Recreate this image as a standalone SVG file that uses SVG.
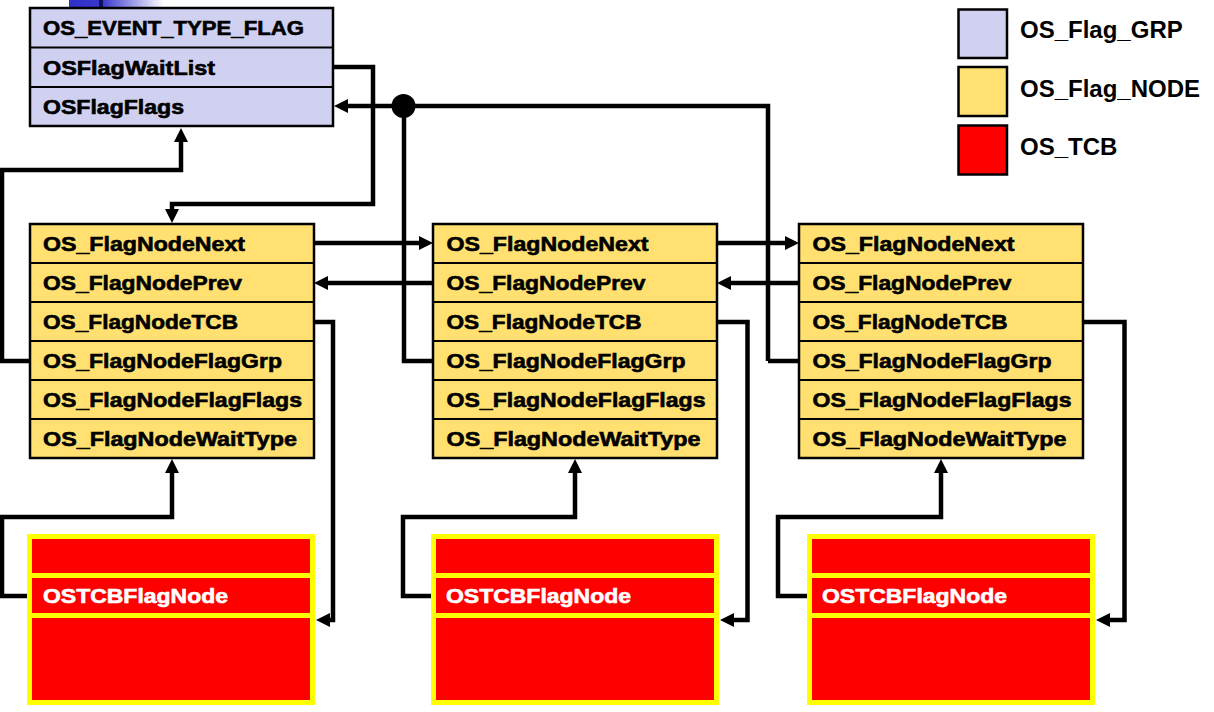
<svg xmlns="http://www.w3.org/2000/svg" width="1214" height="712" viewBox="0 0 1214 712">
<style>
.bg{fill:#ffffff}
.grp{fill:#D0D0F0;stroke:#000;stroke-width:2.5}
.node{fill:#FFE070;stroke:#000;stroke-width:2.5}
.div{stroke:#000;stroke-width:2}
.tcb{fill:#FF0000;stroke:#FFFF00;stroke-width:5}
.tdiv{stroke:#FFFF00;stroke-width:5}
.t{font-family:"Liberation Sans",Arial,sans-serif;font-weight:bold;font-size:20px;fill:#000;stroke:#000;stroke-width:0.6}
.tw{font-family:"Liberation Sans",Arial,sans-serif;font-weight:bold;font-size:20px;fill:#fff;stroke:#fff;stroke-width:0.6}
.lg{font-family:"Liberation Sans",Arial,sans-serif;font-weight:bold;font-size:24px;fill:#000}
.c{fill:none;stroke:#000;stroke-width:4.5;stroke-linejoin:miter}
.ca{fill:none;stroke:#000;stroke-width:4.5;marker-end:url(#ah)}
</style>
<defs>
<marker id="ah" markerUnits="userSpaceOnUse" markerWidth="14" markerHeight="14" refX="6" refY="7" orient="auto">
<path d="M0,0 L14,7 L0,14 z" fill="#000"/>
</marker>
<linearGradient id="bl" x1="0" y1="0" x2="1" y2="0">
<stop offset="0" stop-color="#3030C8"/>
<stop offset="0.35" stop-color="#3838CC"/>
<stop offset="1" stop-color="#ffffff"/>
</linearGradient>
</defs>
<rect class="bg" x="0" y="0" width="1214" height="712"/>
<g id="decor">
<rect x="69" y="0" width="95" height="8" fill="url(#bl)"/>
<rect x="99" y="0" width="4" height="8" fill="#101060"/>
</g>
<g id="connectors">
<path class="ca" d="M333,67 H373 V204 H172 V215"/>
<path class="ca" d="M768,361 V106 H342"/>
<path class="c" d="M433,361 H404 V106"/>
<path class="c" d="M799,361 H768"/>
<circle cx="403.5" cy="106" r="12" fill="#000"/>
<path class="ca" d="M30,361 H2 V170 H181 V136"/>
<path class="ca" d="M314,243 H425"/>
<path class="ca" d="M717,243 H791"/>
<path class="ca" d="M433,283 H322"/>
<path class="ca" d="M799,283 H725"/>
<path class="ca" d="M314,322 H333 V620 H324"/>
<path class="ca" d="M717,322 H747.5 V620 H728"/>
<path class="ca" d="M1083,322 H1124.5 V620 H1104"/>
<path class="ca" d="M27,596 H2 V517 H172 V467"/>
<path class="ca" d="M431,596 H403 V517 H575 V467"/>
<path class="ca" d="M807,596 H778 V517 H941 V467"/>
</g>
<g id="flag_grp">
<rect class="grp" x="30" y="8" width="303" height="118"/>
<line class="div" x1="30" y1="47.5" x2="333" y2="47.5"/>
<line class="div" x1="30" y1="87" x2="333" y2="87"/>
<text class="t" x="43" y="35" textLength="261" lengthAdjust="spacingAndGlyphs">OS_EVENT_TYPE_FLAG</text>
<text class="t" x="43" y="75" textLength="172" lengthAdjust="spacingAndGlyphs">OSFlagWaitList</text>
<text class="t" x="43" y="114" textLength="141" lengthAdjust="spacingAndGlyphs">OSFlagFlags</text>
</g>
<g id="node1">
<rect class="node" x="30" y="224" width="284" height="234"/>
<line class="div" x1="30" y1="263" x2="314" y2="263"/>
<line class="div" x1="30" y1="302" x2="314" y2="302"/>
<line class="div" x1="30" y1="341" x2="314" y2="341"/>
<line class="div" x1="30" y1="380" x2="314" y2="380"/>
<line class="div" x1="30" y1="419" x2="314" y2="419"/>
<text class="t" x="43" y="251" textLength="202" lengthAdjust="spacingAndGlyphs">OS_FlagNodeNext</text>
<text class="t" x="43" y="290" textLength="199" lengthAdjust="spacingAndGlyphs">OS_FlagNodePrev</text>
<text class="t" x="43" y="329" textLength="195" lengthAdjust="spacingAndGlyphs">OS_FlagNodeTCB</text>
<text class="t" x="43" y="368" textLength="239" lengthAdjust="spacingAndGlyphs">OS_FlagNodeFlagGrp</text>
<text class="t" x="43" y="407" textLength="259" lengthAdjust="spacingAndGlyphs">OS_FlagNodeFlagFlags</text>
<text class="t" x="43" y="446" textLength="254" lengthAdjust="spacingAndGlyphs">OS_FlagNodeWaitType</text>
</g>
<g id="node2">
<rect class="node" x="433" y="224" width="284" height="234"/>
<line class="div" x1="433" y1="263" x2="717" y2="263"/>
<line class="div" x1="433" y1="302" x2="717" y2="302"/>
<line class="div" x1="433" y1="341" x2="717" y2="341"/>
<line class="div" x1="433" y1="380" x2="717" y2="380"/>
<line class="div" x1="433" y1="419" x2="717" y2="419"/>
<text class="t" x="446.5" y="251" textLength="202" lengthAdjust="spacingAndGlyphs">OS_FlagNodeNext</text>
<text class="t" x="446.5" y="290" textLength="199" lengthAdjust="spacingAndGlyphs">OS_FlagNodePrev</text>
<text class="t" x="446.5" y="329" textLength="195" lengthAdjust="spacingAndGlyphs">OS_FlagNodeTCB</text>
<text class="t" x="446.5" y="368" textLength="239" lengthAdjust="spacingAndGlyphs">OS_FlagNodeFlagGrp</text>
<text class="t" x="446.5" y="407" textLength="259" lengthAdjust="spacingAndGlyphs">OS_FlagNodeFlagFlags</text>
<text class="t" x="446.5" y="446" textLength="254" lengthAdjust="spacingAndGlyphs">OS_FlagNodeWaitType</text>
</g>
<g id="node3">
<rect class="node" x="799" y="224" width="284" height="234"/>
<line class="div" x1="799" y1="263" x2="1083" y2="263"/>
<line class="div" x1="799" y1="302" x2="1083" y2="302"/>
<line class="div" x1="799" y1="341" x2="1083" y2="341"/>
<line class="div" x1="799" y1="380" x2="1083" y2="380"/>
<line class="div" x1="799" y1="419" x2="1083" y2="419"/>
<text class="t" x="812.5" y="251" textLength="202" lengthAdjust="spacingAndGlyphs">OS_FlagNodeNext</text>
<text class="t" x="812.5" y="290" textLength="199" lengthAdjust="spacingAndGlyphs">OS_FlagNodePrev</text>
<text class="t" x="812.5" y="329" textLength="195" lengthAdjust="spacingAndGlyphs">OS_FlagNodeTCB</text>
<text class="t" x="812.5" y="368" textLength="239" lengthAdjust="spacingAndGlyphs">OS_FlagNodeFlagGrp</text>
<text class="t" x="812.5" y="407" textLength="259" lengthAdjust="spacingAndGlyphs">OS_FlagNodeFlagFlags</text>
<text class="t" x="812.5" y="446" textLength="254" lengthAdjust="spacingAndGlyphs">OS_FlagNodeWaitType</text>
</g>
<g id="tcb1">
<rect class="tcb" x="29.5" y="536.5" width="283" height="166"/>
<line class="tdiv" x1="29.5" y1="575.5" x2="312.5" y2="575.5"/>
<line class="tdiv" x1="29.5" y1="615.5" x2="312.5" y2="615.5"/>
<text class="tw" x="43" y="603" textLength="185" lengthAdjust="spacingAndGlyphs">OSTCBFlagNode</text>
</g>
<g id="tcb2">
<rect class="tcb" x="433.5" y="536.5" width="283" height="166"/>
<line class="tdiv" x1="433.5" y1="575.5" x2="716.5" y2="575.5"/>
<line class="tdiv" x1="433.5" y1="615.5" x2="716.5" y2="615.5"/>
<text class="tw" x="446" y="603" textLength="185" lengthAdjust="spacingAndGlyphs">OSTCBFlagNode</text>
</g>
<g id="tcb3">
<rect class="tcb" x="809.5" y="536.5" width="283" height="166"/>
<line class="tdiv" x1="809.5" y1="575.5" x2="1092.5" y2="575.5"/>
<line class="tdiv" x1="809.5" y1="615.5" x2="1092.5" y2="615.5"/>
<text class="tw" x="822" y="603" textLength="185" lengthAdjust="spacingAndGlyphs">OSTCBFlagNode</text>
</g>
<g id="legend">
<rect class="grp" x="958.5" y="9.5" width="48.5" height="48.5"/>
<rect class="node" x="958.5" y="67" width="48.5" height="49"/>
<rect x="958.5" y="125.5" width="48.5" height="49" fill="#FF0000" stroke="#000" stroke-width="2.5"/>
<text class="lg" x="1020" y="38">OS_Flag_GRP</text>
<text class="lg" x="1020" y="97">OS_Flag_NODE</text>
<text class="lg" x="1020" y="155">OS_TCB</text>
</g>
</svg>
